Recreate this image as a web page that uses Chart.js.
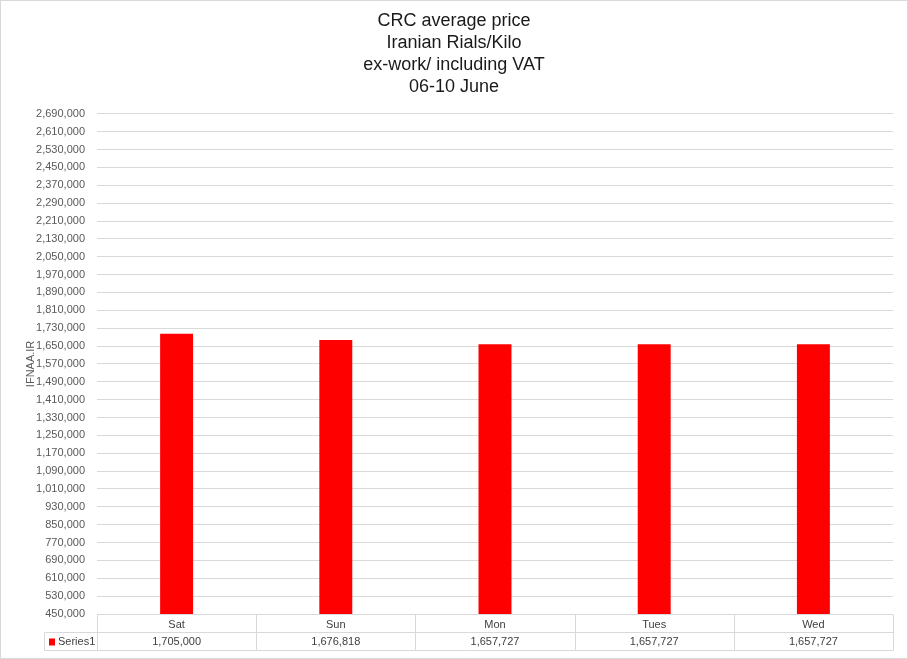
<!DOCTYPE html>
<html lang="en">
<head>
  <meta charset="UTF-8" />
  <title>CRC average price</title>
  <script src="https://cdn.jsdelivr.net/npm/chart.js"></script>
  <style>
    html, body {
      margin: 0;
      padding: 0;
      background: #fff;
    }
    .chart-box {
      position: relative;
      width: 908px;
      height: 659px;
    }
  </style>
</head>
<body>
  <div class="chart-box">
    <canvas id="crcChart"></canvas>
  </div>

  <script>
    // ------------------------------------------
    // Data
    // ------------------------------------------
    const TITLE_LINES = ['CRC average price', 'Iranian Rials/Kilo', 'ex-work/ including VAT', '06-10 June'];
    const DAYS = ['Sat', 'Sun', 'Mon', 'Tues', 'Wed'];
    const SERIES_NAME = 'Series1';
    const PRICES = [1705000, 1676818, 1657727, 1657727, 1657727];
    const Y_MIN = 450000;
    const Y_MAX = 2690000;
    const Y_STEP = 80000;

    const GRID_COLOR = '#d9d9d9';
    const TEXT_COLOR = '#595959';
    const TABLE_TEXT = '#404040';
    const BAR_COLOR = '#ff0000';
    const FONT = '"Liberation Sans", Arial, sans-serif';

    const fmt = v => v.toLocaleString('en-US');

    // ------------------------------------------
    // Data table under the x axis + outer border
    // ------------------------------------------
    const dataTablePlugin = {
      id: 'dataTable',
      afterDraw(chart) {
        const ctx = chart.ctx;
        const x = chart.scales.x;
        const area = chart.chartArea;
        const rowH = 18;
        const top = Math.round(area.bottom) + 0.5;
        const mid = top + rowH;
        const bot = mid + rowH;
        const keyLeft = 44.5;
        const colW = (area.right - area.left) / DAYS.length;

        ctx.save();
        ctx.strokeStyle = GRID_COLOR;
        ctx.lineWidth = 1;
        ctx.beginPath();
        ctx.moveTo(area.left, top); ctx.lineTo(area.right, top);
        ctx.moveTo(keyLeft, mid); ctx.lineTo(area.right, mid);
        ctx.moveTo(keyLeft, bot); ctx.lineTo(area.right, bot);
        ctx.moveTo(keyLeft, mid); ctx.lineTo(keyLeft, bot);
        for (let i = 0; i <= DAYS.length; i++) {
          const lx = Math.round(area.left + i * colW) + 0.5;
          ctx.moveTo(lx, top); ctx.lineTo(lx, bot);
        }
        ctx.stroke();

        // series key
        ctx.fillStyle = BAR_COLOR;
        ctx.fillRect(49, mid + 6, 6, 7);
        ctx.font = '11px ' + FONT;
        ctx.fillStyle = TABLE_TEXT;
        ctx.textBaseline = 'middle';
        ctx.textAlign = 'left';
        ctx.fillText(SERIES_NAME, 58, mid + rowH / 2);

        // values
        ctx.textAlign = 'center';
        PRICES.forEach((v, i) => {
          ctx.fillText(fmt(v), x.getPixelForValue(i), mid + rowH / 2);
        });

        // outer chart border
        ctx.strokeStyle = GRID_COLOR;
        ctx.strokeRect(0.5, 0.5, chart.width - 1, chart.height - 1);
        ctx.restore();
      }
    };

    // ------------------------------------------
    // Chart
    // ------------------------------------------
    window.addEventListener('DOMContentLoaded', () => {
      const ctx = document.getElementById('crcChart').getContext('2d');

      new Chart(ctx, {
        type: 'bar',
        data: {
          labels: DAYS,
          datasets: [{
            label: SERIES_NAME,
            data: PRICES,
            backgroundColor: BAR_COLOR,
            barPercentage: 0.207,
            categoryPercentage: 1
          }]
        },
        options: {
          responsive: true,
          maintainAspectRatio: false,
          animation: false,
          layout: {
            padding: { top: 0, right: 15, bottom: 9, left: 15 }
          },
          scales: {
            x: {
              grid: { display: false, drawTicks: false },
              border: { display: false },
              ticks: {
                color: TABLE_TEXT,
                font: { family: FONT, size: 11 },
                padding: 4,
                maxRotation: 0
              },
              afterFit(scale) { scale.height = 36; }
            },
            y: {
              min: Y_MIN,
              max: Y_MAX,
              grid: { color: GRID_COLOR, drawTicks: false },
              border: { display: false },
              ticks: {
                stepSize: Y_STEP,
                color: TEXT_COLOR,
                padding: 12,
                font: { family: FONT, size: 11 },
                callback: v => fmt(v)
              },
              title: {
                display: true,
                text: 'IFNAA.IR',
                color: TEXT_COLOR,
                font: { family: FONT, size: 11 },
                padding: { top: 9, bottom: 0 }
              },
              afterFit(scale) { scale.width = 82; }
            }
          },
          plugins: {
            legend: { display: false },
            tooltip: { enabled: false },
            title: {
              display: true,
              text: TITLE_LINES,
              color: '#1a1a1a',
              font: { family: FONT, size: 18, weight: 'normal', lineHeight: 1.22 },
              padding: { top: 10, bottom: 16 }
            }
          }
        },
        plugins: [dataTablePlugin]
      });
    });
  </script>
</body>
</html>
